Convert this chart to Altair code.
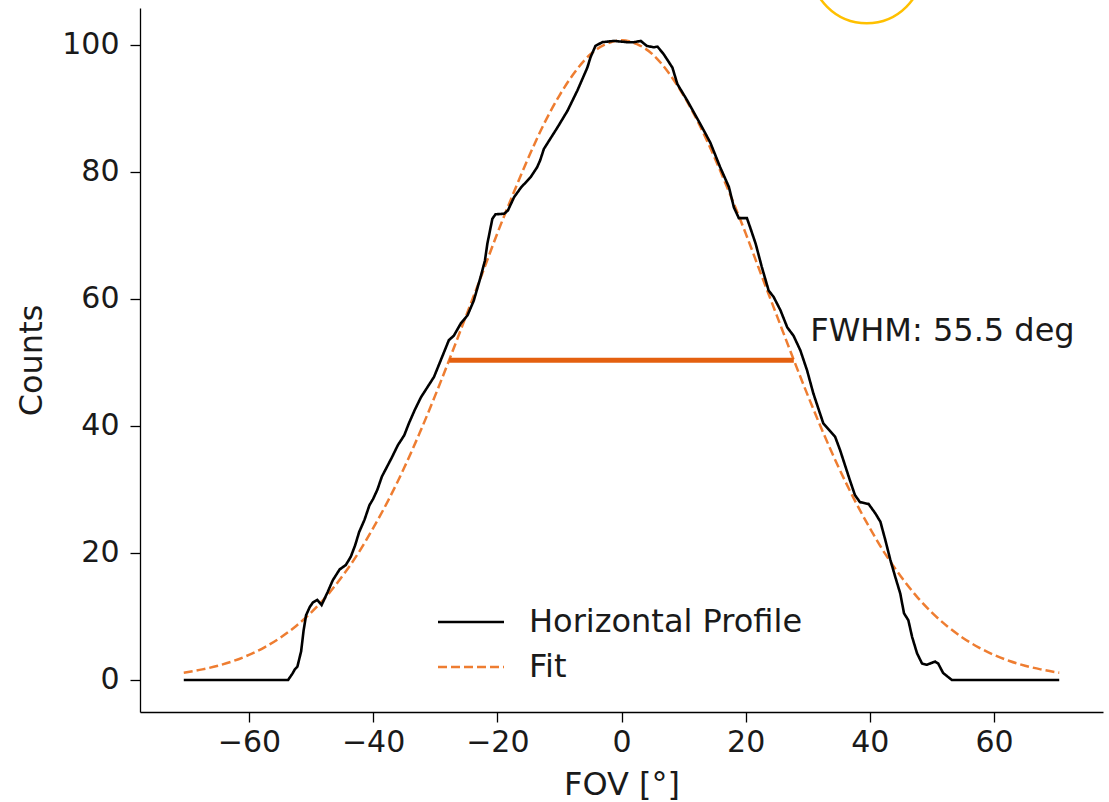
import altair as alt
import pandas as pd

# Measured horizontal profile across the field of view
profile_fov = [
    -70.5, -53.7, -53.0, -52.6, -52.2, -51.6, -51.2, -50.8, -50.2, -49.7,
    -49.0, -48.3, -47.3, -46.5, -45.4, -44.4, -43.6, -42.9, -42.25, -41.4,
    -40.6, -40.0, -39.3, -38.6, -37.8, -37.0, -36.0, -35.0, -34.2, -33.3,
    -32.3, -30.2, -27.8, -27.0, -25.9, -24.8, -23.8, -22.7, -22.0, -21.6,
    -20.8, -20.3, -18.9, -18.3, -17.3, -16.2, -14.6, -13.6, -13.1, -12.5,
    -10.3, -8.7, -7.1, -5.5, -5.0, -4.2, -3.1, -1.2, 0.9, 2.0,
    3.1, 4.1, 5.2, 5.8, 6.8, 8.2, 9.0, 10.6, 12.7, 14.3,
    15.9, 17.3, 18.1, 18.9, 20.2, 20.7, 21.6, 22.6, 23.7, 24.5,
    25.6, 26.7, 27.7, 28.8, 29.9, 30.9, 32.5, 34.4, 35.2, 36.8,
    37.6, 38.4, 39.8, 40.9, 41.7, 42.5, 43.3, 44.1, 44.9, 45.5,
    46.2, 46.8, 47.6, 48.4, 49.2, 50.5, 51.0, 51.8, 53.2, 70.5,
]
profile_counts = [
    0.0, 0.0, 1.0, 1.7, 2.1, 4.5, 7.8, 10.2, 11.5, 12.2,
    12.6, 11.8, 13.9, 15.7, 17.4, 18.1, 19.4, 21.2, 23.3, 25.2,
    27.5, 28.5, 30.0, 32.0, 33.5, 35.0, 37.0, 38.5, 40.5, 42.5,
    44.5, 47.7, 53.5, 54.2, 56.1, 57.4, 59.7, 63.4, 66.0, 68.7,
    72.6, 73.3, 73.4, 73.9, 76.0, 77.5, 79.2, 80.7, 81.8, 83.6,
    87.0, 89.6, 92.8, 96.4, 98.0, 99.8, 100.4, 100.6, 100.4, 100.4,
    100.6, 99.8, 99.6, 99.7, 98.5, 96.4, 93.8, 91.2, 87.5, 84.6,
    80.7, 77.6, 74.4, 72.7, 72.7, 71.3, 68.7, 65.0, 61.3, 60.3,
    58.2, 55.5, 54.2, 51.9, 48.7, 45.1, 40.4, 38.3, 36.2, 31.4,
    29.1, 28.0, 27.7, 26.2, 24.9, 22.0, 18.9, 16.2, 13.6, 10.5,
    9.4, 6.8, 4.2, 2.6, 2.4, 2.9, 2.6, 1.1, 0.0, 0.0,
]

# Fitted curve
fit_fov = [
    -70.5, -67.5, -65.0, -62.5, -60.0, -57.5, -55.0, -52.5, -50.0, -47.5,
    -45.0, -42.5, -40.0, -37.5, -35.0, -32.5, -30.0, -27.5, -25.0, -22.5,
    -20.0, -17.5, -15.0, -12.5, -10.0, -7.5, -5.0, -2.5, 0.0, 2.5,
    5.0, 7.5, 10.0, 12.5, 15.0, 17.5, 20.0, 22.5, 25.0, 27.5,
    30.0, 32.5, 35.0, 37.5, 40.0, 42.5, 45.0, 47.5, 50.0, 52.5,
    55.0, 57.5, 60.0, 62.5, 65.0, 67.5, 70.5,
]
fit_counts = [
    1.15, 1.67, 2.25, 2.99, 3.95, 5.14, 6.62, 8.43, 10.6, 13.2,
    16.3, 19.8, 23.9, 28.4, 33.4, 38.9, 44.8, 51.0, 57.4, 63.8,
    70.3, 76.4, 82.2, 87.5, 92.0, 95.7, 98.5, 100.1, 100.7, 100.1,
    98.5, 95.7, 92.0, 87.5, 82.2, 76.4, 70.3, 63.8, 57.4, 51.0,
    44.8, 38.9, 33.4, 28.4, 23.9, 19.8, 16.3, 13.2, 10.6, 8.43,
    6.62, 5.14, 3.95, 2.99, 2.25, 1.67, 1.15,
]

# Full width at half maximum of the fit
fwhm_left = [-27.75]
fwhm_right = [27.75]
fwhm_level = [50.35]
fwhm_text = ["FWHM: 55.5 deg"]
fwhm_text_pos = [(30.4, 55.0)]

# Highlight ring near the top edge
ring_pos = [(39.5, 112.2)]

series_names = ["Horizontal Profile", "Fit"]
FONT = "DejaVu Sans"
TICK_SIZE = 30
TEXT_SIZE = 32

profile_df = pd.DataFrame({"fov": profile_fov, "counts": profile_counts,
                           "series": series_names[0]})
fit_df = pd.DataFrame({"fov": fit_fov, "counts": fit_counts,
                       "series": series_names[1]})
fwhm_df = pd.DataFrame({"x1": fwhm_left, "x2": fwhm_right, "y": fwhm_level})
text_df = pd.DataFrame({"fov": [p[0] for p in fwhm_text_pos],
                        "counts": [p[1] for p in fwhm_text_pos],
                        "label": fwhm_text})
ring_df = pd.DataFrame({"fov": [p[0] for p in ring_pos],
                        "counts": [p[1] for p in ring_pos]})

x_scale = alt.Scale(domain=[-77.55, 77.55], nice=False, zero=False)
y_scale = alt.Scale(domain=[-5.04, 105.78], nice=False, zero=False)

x_axis = alt.Axis(
    values=[-60, -40, -20, 0, 20, 40, 60], title="FOV [°]", grid=False,
    tickSize=10, tickWidth=1.3, tickColor="black", domainColor="black",
    domainWidth=1.3, labelFontSize=TICK_SIZE, labelFont=FONT, labelColor="#1a1a1a",
    labelPadding=5, titleFontSize=TEXT_SIZE, titleFont=FONT,
    titleFontWeight="normal", titleColor="#1a1a1a", titlePadding=12,
)
y_axis = alt.Axis(
    values=[0, 20, 40, 60, 80, 100], title="Counts", grid=False,
    tickSize=10, tickWidth=1.3, tickColor="black", domainColor="black",
    domainWidth=1.3, labelFontSize=TICK_SIZE, labelFont=FONT, labelColor="#1a1a1a",
    labelPadding=11, titleFontSize=TEXT_SIZE, titleFont=FONT,
    titleFontWeight="normal", titleColor="#1a1a1a", titlePadding=13,
)

legend = alt.Legend(
    title=None, orient="none", legendX=315, legendY=598, padding=0,
    symbolType="M-3,0H3", symbolSize=484, symbolStrokeWidth=2.5,
    symbolFillColor="transparent", labelFontSize=TEXT_SIZE, labelFont=FONT,
    labelColor="#1a1a1a", labelOffset=42, labelLimit=0, rowPadding=13,
)
color_scale = alt.Scale(domain=series_names, range=["black", "#ee7d31"])
dash_scale = alt.Scale(domain=series_names, range=[[1, 0], [9, 4]])

x_enc = alt.X("fov:Q", scale=x_scale, axis=x_axis)
y_enc = alt.Y("counts:Q", scale=y_scale, axis=y_axis)
color_enc = alt.Color("series:N", scale=color_scale, legend=legend,
                      sort=series_names)
dash_enc = alt.StrokeDash("series:N", scale=dash_scale, legend=legend,
                          sort=series_names)

profile_line = alt.Chart(profile_df).mark_line(strokeWidth=2.6).encode(
    x=x_enc, y=y_enc, color=color_enc, strokeDash=dash_enc)

fit_line = alt.Chart(fit_df).mark_line(strokeWidth=2.5, interpolate="monotone").encode(
    x=x_enc, y=y_enc, color=color_enc, strokeDash=dash_enc)

fwhm_bar = alt.Chart(fwhm_df).mark_rule(color="#e4600f", strokeWidth=5).encode(
    x=alt.X("x1:Q", scale=x_scale), x2="x2:Q", y=alt.Y("y:Q", scale=y_scale))

fwhm_label = alt.Chart(text_df).mark_text(
    align="left", baseline="middle", fontSize=TEXT_SIZE, font=FONT, color="#1a1a1a"
).encode(x=alt.X("fov:Q", scale=x_scale), y=alt.Y("counts:Q", scale=y_scale),
         text="label:N")

ring = alt.Chart(ring_df).mark_point(
    shape="circle", size=12544, filled=False, color="#ffc000", strokeWidth=2.5,
    opacity=1
).encode(x=alt.X("fov:Q", scale=x_scale), y=alt.Y("counts:Q", scale=y_scale))

chart = alt.layer(fit_line, profile_line, fwhm_bar, fwhm_label, ring).properties(
    width=963, height=704,
    autosize=alt.AutoSizeParams(type="none"),
    padding={"left": 140, "top": 8, "right": 6, "bottom": 90},
    background="white",
).configure_view(stroke=None)

chart.save("out.html", embed_options={"renderer": "svg", "actions": False})
